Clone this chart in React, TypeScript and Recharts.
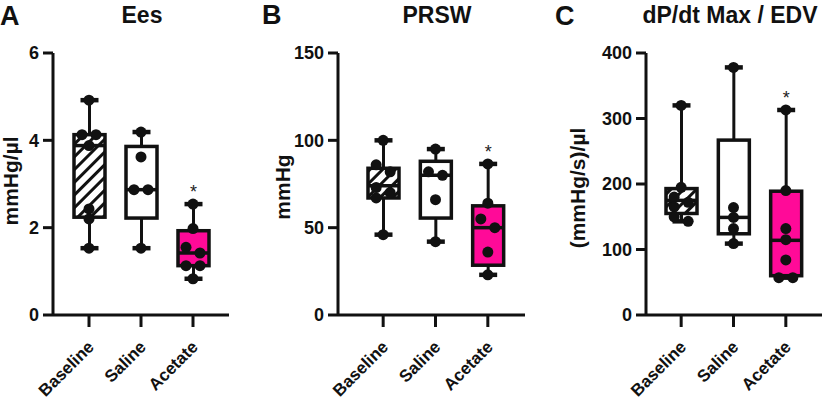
import { ComposedChart, Bar, Scatter, XAxis, YAxis } from 'recharts'

const groups = ['Baseline', 'Saline', 'Acetate']
const significance = ['', '', '*']

// box stats per group: [min, q1, median, q3, max]
const eesBox = [
  [1.53, 2.24, 3.88, 4.13, 4.92],
  [1.53, 2.22, 2.87, 3.86, 4.19],
  [0.83, 1.13, 1.42, 1.93, 2.54],
]
const eesPoints = [
  [4.92, 4.13, 4.13, 3.88, 2.43, 2.2, 1.53],
  [4.19, 3.62, 2.87, 2.87, 1.53],
  [2.54, 1.98, 1.55, 1.42, 1.13, 1.13, 0.83],
]
const eesTicks = [0, 2, 4, 6]

const prswBox = [
  [46, 67, 74, 84, 100],
  [42, 55.5, 80, 88, 95],
  [23, 28.5, 50, 62.5, 86.5],
]
const prswPoints = [
  [100, 86, 82, 73, 70, 67, 46],
  [95, 82, 80, 66, 42],
  [86.5, 64, 55, 50, 36, 23],
]
const prswTicks = [0, 50, 100, 150]

const dpBox = [
  [143, 155, 175, 193, 320],
  [109, 124, 149, 267, 378],
  [57, 60, 114, 189, 313],
]
const dpPoints = [
  [320, 195, 180, 172, 165, 150, 143],
  [378, 164, 149, 132, 109],
  [313, 190, 132, 115, 84, 57, 57],
]
const dpTicks = [0, 100, 200, 300, 400]

const FONT = "'Liberation Sans', Arial, Helvetica, sans-serif"
const INK = '#111'
const PINK = '#FF0A98'

// spread near-equal values sideways so dots don't sit on top of each other
function spread(values: number[], tol: number) {
  const sorted = [...values].sort((a, b) => b - a)
  const out: { value: number; dx: number }[] = []
  let i = 0
  while (i < sorted.length) {
    let j = i
    while (j + 1 < sorted.length && sorted[j] - sorted[j + 1] < tol) j++
    const n = j - i + 1
    for (let k = 0; k < n; k++) {
      out.push({ value: sorted[i + k], dx: n === 1 ? 0 : k % 2 === 0 ? -7 : 7 })
    }
    i = j + 1
  }
  return out
}

function BoxShape(props: any) {
  const { x, y, width, height, payload, panel } = props
  const [lo, q1, med, q3, hi] = payload.stats
  const top = Math.min(y, y + height)
  const bottom = Math.max(y, y + height)
  const yOf = (v: number) => top + ((hi - v) / (hi - lo)) * (bottom - top)
  const cx = x + width / 2
  const fill =
    payload.idx === 0 ? `url(#hatch-${panel})` : payload.idx === 2 ? PINK : '#fff'
  return (
    <g>
      <defs>
        <pattern
          id={`hatch-${panel}`}
          width={9}
          height={9}
          patternUnits="userSpaceOnUse"
          patternTransform="rotate(45)"
        >
          <rect x={0} y={0} width={9} height={9} fill="#fff" />
          <rect x={0} y={0} width={3} height={9} fill={INK} />
        </pattern>
      </defs>
      <line x1={cx} x2={cx} y1={yOf(hi)} y2={yOf(q3)} stroke={INK} strokeWidth={3} />
      <line x1={cx} x2={cx} y1={yOf(q1)} y2={yOf(lo)} stroke={INK} strokeWidth={3} />
      <line x1={cx - 9} x2={cx + 9} y1={yOf(hi)} y2={yOf(hi)} stroke={INK} strokeWidth={4.5} />
      <line x1={cx - 9} x2={cx + 9} y1={yOf(lo)} y2={yOf(lo)} stroke={INK} strokeWidth={4.5} />
      <rect
        x={x}
        y={yOf(q3)}
        width={width}
        height={yOf(q1) - yOf(q3)}
        fill={fill}
        stroke={INK}
        strokeWidth={3.5}
      />
      <line x1={x} x2={x + width} y1={yOf(med)} y2={yOf(med)} stroke={INK} strokeWidth={3.5} />
      {payload.sig && (
        <text
          x={cx}
          y={yOf(hi) - 6}
          textAnchor="middle"
          fontSize={18}
          fontFamily={FONT}
          fill="#222"
        >
          {payload.sig}
        </text>
      )}
    </g>
  )
}

function DotShape(props: any) {
  const { cx, cy, payload } = props
  return <circle cx={cx + (payload?.dx ?? 0)} cy={cy} r={5.5} fill={INK} />
}

function XTick(props: any) {
  const { x, y, payload } = props
  return (
    <g transform={`translate(${x + 6},${y + 19})`}>
      <text
        x={0}
        y={0}
        textAnchor="end"
        transform="rotate(-45)"
        fontSize={17}
        fontWeight="bold"
        fontFamily={FONT}
        fill={INK}
      >
        {payload.value}
      </text>
    </g>
  )
}

interface PanelProps {
  panel: string
  box: number[][]
  points: number[][]
  ticks: number[]
  left: number
  width: number
  axisWidth: number
  plotRight: number
  padLeft: number
  padRight: number
}

function Panel({ panel, box, points, ticks, left, width, axisWidth, plotRight, padLeft, padRight }: PanelProps) {
  const max = ticks[ticks.length - 1]
  const data = groups.map((g, i) => ({
    group: g,
    range: [box[i][0], box[i][4]],
    stats: box[i],
    sig: significance[i],
    idx: i,
  }))
  const dots = groups.flatMap((g, i) =>
    spread(points[i], max * 0.035).map((p) => ({ group: g, value: p.value, dx: p.dx }))
  )
  return (
    <div style={{ position: 'absolute', left, top: 0 }}>
      <ComposedChart
        width={width}
        height={404}
        data={data}
        margin={{ top: 53, right: width - plotRight, bottom: 0, left: 0 }}
      >
        <XAxis
          dataKey="group"
          type="category"
          allowDuplicatedCategory={false}
          padding={{ left: padLeft, right: padRight }}
          height={89}
          interval={0}
          tickSize={12}
          axisLine={{ stroke: INK, strokeWidth: 3 }}
          tickLine={{ stroke: INK, strokeWidth: 3 }}
          tick={(p: any) => <XTick {...p} />}
        />
        <YAxis
          type="number"
          domain={[0, max]}
          ticks={ticks}
          width={axisWidth}
          tickSize={10}
          tickMargin={4}
          axisLine={{ stroke: INK, strokeWidth: 3 }}
          tickLine={{ stroke: INK, strokeWidth: 3 }}
          tick={{ fill: INK, fontSize: 18, fontWeight: 'bold', fontFamily: FONT }}
        />
        <Bar
          dataKey="range"
          barSize={31}
          isAnimationActive={false}
          shape={(p: any) => <BoxShape {...p} panel={panel} />}
        />
        <Scatter data={dots} dataKey="value" isAnimationActive={false} shape={DotShape} />
      </ComposedChart>
    </div>
  )
}

const titleStyle = { fontFamily: FONT, fontWeight: 'bold' as const, fill: INK }

export default function App() {
  return (
    <div
      style={{
        position: 'absolute',
        left: 0,
        top: 0,
        width: 827,
        height: 404,
        background: '#fff',
        overflow: 'hidden',
      }}
    >
      <Panel panel="A" box={eesBox} points={eesPoints} ticks={eesTicks}
        left={0} width={240} axisWidth={53} plotRight={229} padLeft={10} padRight={10} />
      <Panel panel="B" box={prswBox} points={prswPoints} ticks={prswTicks}
        left={270} width={265} axisWidth={68} plotRight={255} padLeft={19} padRight={11} />
      <Panel panel="C" box={dpBox} points={dpPoints} ticks={dpTicks}
        left={540} width={287} axisWidth={106} plotRight={282} padLeft={9} padRight={10} />
      <svg
        width={827}
        height={404}
        style={{ position: 'absolute', left: 0, top: 0, pointerEvents: 'none' }}
      >
        <text x={0} y={25} fontSize={27} {...titleStyle}>A</text>
        <text x={142} y={23} fontSize={23} textAnchor="middle" {...titleStyle}>Ees</text>
        <text x={262} y={24} fontSize={27} {...titleStyle}>B</text>
        <text x={437} y={23} fontSize={23} textAnchor="middle" {...titleStyle}>PRSW</text>
        <text x={555} y={25} fontSize={27} {...titleStyle}>C</text>
        <text x={730} y={23} fontSize={23} textAnchor="middle" {...titleStyle}>dP/dt Max / EDV</text>
        <text transform="translate(18,181) rotate(-90)" fontSize={21} textAnchor="middle" {...titleStyle}>mmHg/µl</text>
        <text transform="translate(290,187) rotate(-90)" fontSize={21} textAnchor="middle" {...titleStyle}>mmHg</text>
        <text transform="translate(585,188) rotate(-90)" fontSize={21} textAnchor="middle" {...titleStyle}>(mmHg/s)/µl</text>
      </svg>
    </div>
  )
}
